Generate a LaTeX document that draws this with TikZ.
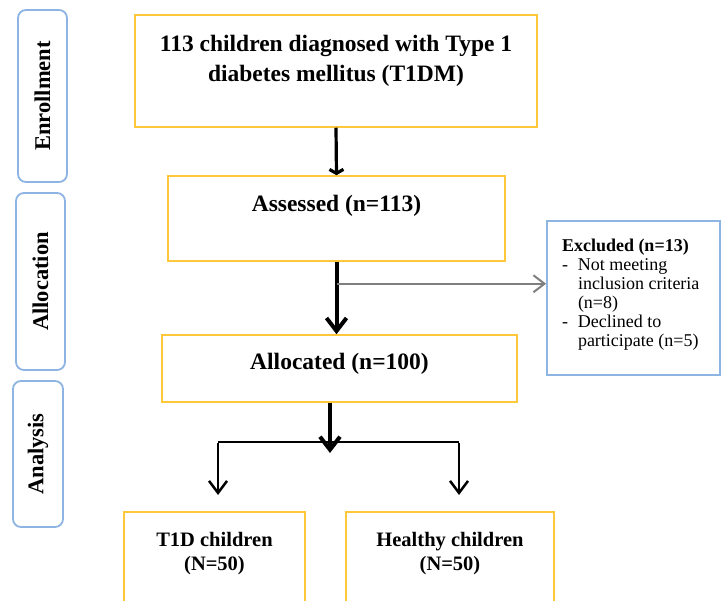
\documentclass[tikz,border=0pt]{standalone}
\usepackage{fontspec}
\setmainfont{Liberation Serif}
\usetikzlibrary{arrows.meta,calc}
\definecolor{boxyellow}{HTML}{FFC83A}
\definecolor{sideblue}{HTML}{8EB4E3}
\definecolor{exgray}{HTML}{7F7F7F}
\begin{document}
\begin{tikzpicture}[x=1pt,y=-1pt,
  mainbox/.style={draw=boxyellow, line width=1.5pt, inner sep=0pt, fill=white},
  sidebox/.style={draw=sideblue, line width=1.8pt, rounded corners=8pt, inner sep=0pt,
    font=\fontsize{22.5}{26}\selectfont\bfseries},
  exbox/.style={draw=sideblue, line width=1.8pt, inner sep=0pt, fill=white},
  thickarr/.style={line width=4pt, -{Straight Barb[length=13pt,width=20pt]}},
  smallarr/.style={line width=3.2pt, -{Straight Barb[length=4pt,width=14pt]}},
  thinarr/.style={line width=2.5pt, -{Straight Barb[length=12pt,width=18pt]}},
  grayarr/.style={draw=exgray, line width=2pt, -{Straight Barb[length=11pt,width=17pt]}},
  hline/.style={line width=2.5pt}
]
\clip (0,0) rectangle (721,601);
\fill[white] (0,0) rectangle (721,601);

% side labels
\node[sidebox, minimum width=172pt, minimum height=49pt, rotate=90] (enr) at (42.5,96) {Enrollment};
\node[sidebox, minimum width=177pt, minimum height=49pt, rotate=90] (alc) at (40.5,281.5) {Allocation};
\node[sidebox, minimum width=146pt, minimum height=50pt, rotate=90] (ana) at (38,454) {Analysis};

% main boxes
\node[mainbox] (b1) at (336,71)
  {\parbox[c][112pt][t]{402pt}{\fontsize{23.5}{30}\selectfont\centering\bfseries\rule{0pt}{37pt}113 children diagnosed with Type 1\\ diabetes mellitus (T1DM)}};
\node[mainbox] (ass) at (336.5,218.5)
  {\parbox[c][85pt][t]{337pt}{\fontsize{23.5}{30}\selectfont\centering\bfseries\rule{0pt}{36pt}Assessed (n=113)}};
\node[mainbox] (all) at (339.5,368.5)
  {\parbox[c][67pt][t]{355pt}{\fontsize{23.5}{30}\selectfont\centering\bfseries\rule{0pt}{35pt}Allocated (n=100)}};
\node[exbox] (exc) at (633.5,298)
  {\parbox[c][154pt][t]{173pt}{\fontsize{18}{19}\selectfont\raggedright
   \hspace*{15pt}\rule{0pt}{31pt}\textbf{Excluded (n=13)}\\
   \hspace*{15pt}\makebox[16pt][l]{-}Not meeting\\
   \hspace*{31pt}inclusion criteria\\
   \hspace*{31pt}(n=8)\\
   \hspace*{15pt}\makebox[16pt][l]{-}Declined to\\
   \hspace*{31pt}participate (n=5)}};
\node[mainbox] (t1d) at (214.5,567)
  {\parbox[c][110pt][t]{181pt}{\fontsize{20.5}{25}\selectfont\centering\bfseries\rule{0pt}{34pt}T1D children\\ (N=50)}};
\node[mainbox] (hea) at (450,567)
  {\parbox[c][110pt][t]{208pt}{\fontsize{20.5}{25}\selectfont\centering\bfseries\rule{0pt}{34pt}Healthy children\\ (N=50)}};

% connectors
\draw[smallarr] (b1.south) -- (ass.north);
\coordinate (br) at ($(ass.south)+(0,22)$);
\draw[thickarr] (ass.south) -- (ass.south |- all.north);
\draw[grayarr] (br) -- (br -| exc.west);

\coordinate (jc) at (330,442);
\coordinate (jt) at (330,453);
\coordinate (jl) at (218,442);
\coordinate (jr) at (459,442);
\coordinate (tl) at (218,495);
\coordinate (tr) at (459,495);
\draw[hline] (jl) -- (jr);
\draw[thickarr] (all.south -| jc) -- (jt);
\draw[thinarr] ([yshift=-1.25pt]jl) -- (tl);
\draw[thinarr] ([yshift=-1.25pt]jr) -- (tr);
\end{tikzpicture}
\end{document}
